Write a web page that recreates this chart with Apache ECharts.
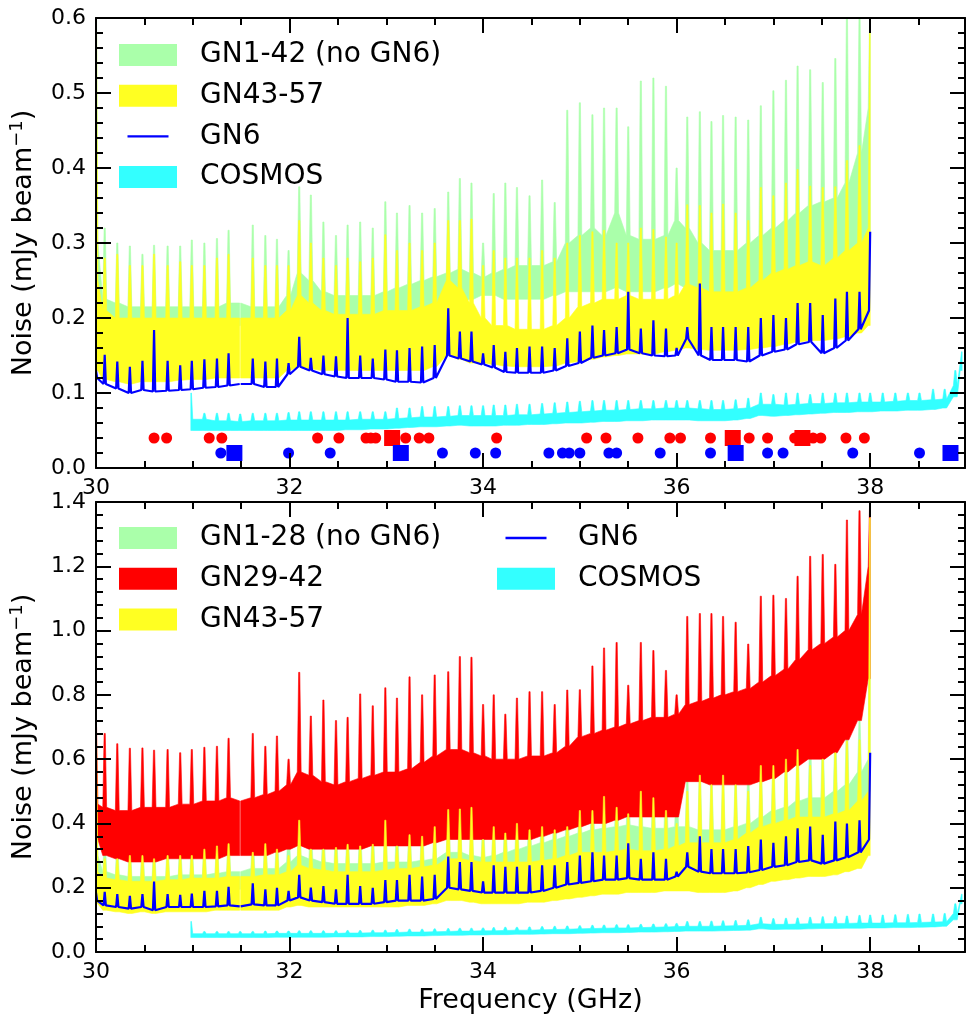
<!DOCTYPE html>
<html><head><meta charset="utf-8">
<script src="https://cdn.jsdelivr.net/npm/echarts@6/dist/echarts.min.js"></script>
<style>html,body{margin:0;padding:0;background:#fff}#c{width:966px;height:1019px}</style>
</head><body><div id="c"></div>
<script>
// ---------- frequencies of sub-band edges (GHz) ----------
const FREQ = [
 [30.00, 30.09, 30.22, 30.35, 30.48, 30.60, 30.74, 30.87, 30.99],
 [31.12, 31.25, 31.37, 31.49, 31.62, 31.75, 31.87, 31.99],
 [32.10, 32.22, 32.35, 32.48, 32.60, 32.73, 32.86, 32.99],
 [33.11, 33.24, 33.37, 33.50, 33.64, 33.76, 33.88, 34.00],
 [34.11, 34.23, 34.35, 34.48, 34.61, 34.74, 34.87, 35.00],
 [35.13, 35.25, 35.38, 35.50, 35.63, 35.76, 35.89, 36.00],
 [36.11, 36.24, 36.36, 36.48, 36.61, 36.74, 36.87, 37.00],
 [37.13, 37.25, 37.38, 37.51, 37.64, 37.76, 37.89, 38.00]].flat();
const COSMOS_FREQ = [
 [30.98, 31.12, 31.25, 31.37, 31.49, 31.62, 31.75, 31.87, 31.99],
 [32.10, 32.22, 32.35, 32.48, 32.60, 32.73, 32.86, 32.99],
 [33.11, 33.24, 33.37, 33.50, 33.64, 33.76, 33.88, 34.00],
 [34.11, 34.23, 34.35, 34.48, 34.61, 34.74, 34.87, 35.00],
 [35.13, 35.25, 35.38, 35.50, 35.63, 35.76, 35.89, 36.00],
 [36.11, 36.24, 36.36, 36.48, 36.61, 36.74, 36.87, 37.00],
 [37.13, 37.25, 37.38, 37.51, 37.64, 37.76, 37.89, 38.00],
 [38.13, 38.26, 38.39, 38.51, 38.65, 38.77, 38.88, 38.95]].flat();

// ---------- TOP PANEL ----------
const top_gn142_lo = [
 [0.200, 0.190, 0.190, 0.190, 0.190, 0.190, 0.190, 0.190, 0.190],
 [0.190, 0.190, 0.190, 0.190, 0.190, 0.190, 0.190, 0.195],
 [0.200, 0.200, 0.195, 0.190, 0.190, 0.190, 0.190, 0.190],
 [0.190, 0.190, 0.190, 0.200, 0.210, 0.220, 0.225, 0.230],
 [0.230, 0.225, 0.225, 0.225, 0.225, 0.230, 0.235, 0.235],
 [0.235, 0.235, 0.240, 0.235, 0.235, 0.235, 0.240, 0.245],
 [0.240, 0.230, 0.225, 0.225, 0.225, 0.230, 0.235, 0.240],
 [0.245, 0.250, 0.255, 0.260, 0.265, 0.270, 0.280, 0.300]].flat();
const top_gn142_hi = [
 [0.300, 0.225, 0.220, 0.215, 0.215, 0.215, 0.215, 0.215, 0.215],
 [0.215, 0.215, 0.220, 0.220, 0.215, 0.215, 0.215, 0.230],
 [0.260, 0.250, 0.235, 0.230, 0.230, 0.230, 0.230, 0.235],
 [0.240, 0.245, 0.250, 0.255, 0.260, 0.265, 0.260, 0.255],
 [0.260, 0.265, 0.270, 0.270, 0.270, 0.275, 0.300, 0.310],
 [0.320, 0.310, 0.340, 0.310, 0.305, 0.305, 0.310, 0.330],
 [0.320, 0.300, 0.290, 0.290, 0.290, 0.300, 0.310, 0.320],
 [0.330, 0.340, 0.350, 0.355, 0.360, 0.380, 0.420, 0.480]].flat();
const top_gn142_spike = [
 [0.600, 0.320, 0.300, 0.296, 0.285, 0.297, 0.296, 0.296, 0.304],
 [0.300, 0.306, 0.317, null, 0.324, 0.310, 0.305, 0.290],
 [0.375, 0.364, 0.328, 0.310, 0.324, 0.328, 0.320, 0.355],
 [0.340, 0.350, 0.340, 0.346, 0.368, 0.386, 0.380, 0.300],
 [0.366, 0.380, 0.374, 0.363, 0.384, 0.354, 0.477, 0.487],
 [0.471, 0.480, 0.480, 0.455, 0.516, 0.520, 0.509, 0.400],
 [0.468, 0.475, 0.462, 0.470, 0.468, 0.464, 0.483, 0.503],
 [0.517, 0.536, 0.531, 0.514, 0.546, 0.600, 0.600, 0.600]].flat();
const top_gn4357_lo = [
 [0.130, 0.118, 0.115, 0.112, 0.115, 0.115, 0.115, 0.117, 0.118],
 [0.118, 0.120, 0.120, 0.120, 0.120, 0.120, 0.120, 0.130],
 [0.135, 0.132, 0.130, 0.130, 0.130, 0.130, 0.130, 0.130],
 [0.130, 0.130, 0.130, 0.135, 0.150, 0.145, 0.140, 0.140],
 [0.138, 0.136, 0.135, 0.135, 0.135, 0.136, 0.140, 0.142],
 [0.145, 0.148, 0.150, 0.152, 0.152, 0.152, 0.155, 0.157],
 [0.160, 0.158, 0.157, 0.157, 0.157, 0.158, 0.160, 0.162],
 [0.165, 0.168, 0.170, 0.170, 0.172, 0.175, 0.180, 0.190]].flat();
const top_gn4357_hi = [
 [0.250, 0.210, 0.200, 0.200, 0.200, 0.200, 0.200, 0.200, 0.200],
 [0.200, 0.200, 0.200, 0.200, 0.200, 0.200, 0.200, 0.210],
 [0.230, 0.220, 0.210, 0.205, 0.205, 0.205, 0.205, 0.210],
 [0.210, 0.210, 0.215, 0.220, 0.250, 0.240, 0.220, 0.200],
 [0.190, 0.190, 0.185, 0.185, 0.185, 0.190, 0.200, 0.215],
 [0.220, 0.225, 0.225, 0.230, 0.225, 0.225, 0.225, 0.230],
 [0.245, 0.240, 0.235, 0.235, 0.235, 0.240, 0.250, 0.260],
 [0.265, 0.270, 0.275, 0.270, 0.280, 0.290, 0.300, 0.320]].flat();
const top_gn4357_spike = [
 [0.580, 0.280, 0.285, 0.270, 0.270, 0.285, 0.270, 0.275, 0.270],
 [0.270, 0.280, 0.285, null, 0.280, 0.270, 0.270, 0.270],
 [0.330, 0.300, 0.280, 0.270, 0.280, 0.275, 0.280, 0.311],
 [0.290, 0.300, 0.290, 0.300, 0.330, 0.330, 0.332, 0.270],
 [0.290, 0.280, 0.280, 0.280, 0.290, 0.280, 0.300, 0.310],
 [0.315, 0.317, 0.300, 0.300, 0.320, 0.318, 0.308, 0.300],
 [0.351, 0.350, 0.340, 0.352, 0.340, 0.330, 0.374, 0.363],
 [0.380, 0.398, 0.376, 0.374, 0.375, 0.410, 0.430, 0.580]].flat();
const top_gn6_base = [
 [0.120, 0.112, 0.106, 0.100, 0.104, 0.102, 0.103, 0.104, 0.105],
 [0.107, 0.108, 0.110, 0.112, 0.112, 0.108, 0.108, 0.125],
 [0.135, 0.130, 0.125, 0.122, 0.120, 0.120, 0.120, 0.118],
 [0.115, 0.115, 0.114, 0.120, 0.150, 0.146, 0.142, 0.138],
 [0.134, 0.128, 0.127, 0.127, 0.127, 0.130, 0.136, 0.140],
 [0.147, 0.150, 0.153, 0.158, 0.153, 0.150, 0.149, 0.150],
 [0.172, 0.150, 0.144, 0.144, 0.144, 0.142, 0.150, 0.155],
 [0.158, 0.165, 0.168, 0.153, 0.160, 0.170, 0.185, 0.210]].flat();
const top_gn6_spike = [
 [0.130, 0.151, 0.142, 0.135, 0.143, 0.184, 0.143, 0.137, 0.143],
 [0.145, 0.146, 0.153, null, 0.146, 0.142, 0.146, 0.140],
 [0.175, 0.147, 0.150, 0.149, 0.200, 0.150, 0.146, 0.158],
 [0.157, 0.160, 0.162, 0.164, 0.213, 0.182, 0.182, 0.153],
 [0.164, 0.155, 0.160, 0.162, 0.162, 0.160, 0.173, 0.182],
 [0.190, 0.184, 0.188, 0.235, 0.186, 0.197, 0.186, 0.160],
 [0.188, 0.246, 0.188, 0.188, 0.188, 0.188, 0.200, 0.204],
 [0.200, 0.220, 0.220, 0.204, 0.226, 0.235, 0.235, 0.315]].flat();
const top_cosmos_lo = [
 [0.050, 0.050, 0.050, 0.050, 0.050, 0.050, 0.050, 0.050, 0.050],
 [0.050, 0.050, 0.050, 0.050, 0.051, 0.051, 0.052, 0.052],
 [0.053, 0.054, 0.055, 0.055, 0.056, 0.057, 0.056, 0.056],
 [0.056, 0.057, 0.057, 0.058, 0.058, 0.059, 0.060, 0.060],
 [0.061, 0.062, 0.062, 0.063, 0.063, 0.064, 0.064, 0.064],
 [0.064, 0.063, 0.063, 0.063, 0.064, 0.066, 0.070, 0.069],
 [0.070, 0.071, 0.072, 0.073, 0.074, 0.074, 0.075, 0.075],
 [0.076, 0.076, 0.077, 0.077, 0.078, 0.080, 0.095, 0.130]].flat();
const top_cosmos_hi = [
 [0.065, 0.065, 0.063, 0.063, 0.062, 0.063, 0.063, 0.063, 0.064],
 [0.064, 0.064, 0.064, 0.064, 0.064, 0.065, 0.065, 0.065],
 [0.066, 0.067, 0.068, 0.068, 0.069, 0.070, 0.070, 0.070],
 [0.070, 0.070, 0.071, 0.071, 0.072, 0.073, 0.074, 0.075],
 [0.076, 0.077, 0.077, 0.078, 0.079, 0.079, 0.080, 0.080],
 [0.080, 0.079, 0.078, 0.078, 0.079, 0.080, 0.085, 0.085],
 [0.084, 0.085, 0.086, 0.086, 0.087, 0.087, 0.088, 0.088],
 [0.088, 0.089, 0.090, 0.090, 0.091, 0.092, 0.110, 0.140]].flat();
const top_cosmos_spike = [
 [0.100, 0.073, 0.073, 0.073, 0.072, 0.073, 0.073, 0.073, 0.074],
 [0.075, 0.075, 0.075, 0.075, 0.075, 0.075, 0.075, 0.075],
 [0.080, 0.080, 0.082, 0.082, 0.082, 0.083, 0.083, 0.083],
 [0.084, 0.084, 0.085, 0.085, 0.086, 0.087, 0.088, 0.089],
 [0.090, 0.090, 0.090, 0.090, 0.090, 0.090, 0.090, 0.090],
 [0.090, 0.090, 0.090, 0.090, 0.091, 0.093, 0.100, 0.098],
 [0.100, 0.100, 0.098, 0.100, 0.100, 0.100, 0.100, 0.100],
 [0.100, 0.100, 0.100, 0.100, 0.105, 0.105, 0.130, 0.155]].flat();
const red_circle_freq  = [30.60, 30.73, 31.17, 31.30, 32.29, 32.51, 32.79, 32.84, 32.89, 33.20, 33.34, 33.44, 34.14,
                          35.07, 35.27, 35.60, 35.93, 36.04, 36.35, 36.75, 36.94, 37.22, 37.41, 37.49, 37.75, 37.94];
const red_square_freq  = [33.06, 36.58, 37.30];
const blue_circle_freq = [31.29, 31.99, 32.42, 33.58, 33.92, 34.13, 34.68, 34.82, 34.89, 35.00, 35.30, 35.38, 35.83,
                          36.35, 36.94, 37.10, 37.82, 38.51];
const blue_square_freq = [31.43, 33.15, 36.61, 38.83];
const red_marker_level = 0.04, blue_marker_level = 0.02;

// ---------- BOTTOM PANEL ----------
const bot_gn128_lo = [
 [0.200, 0.190, 0.185, 0.185, 0.185, 0.185, 0.185, 0.190, 0.190],
 [0.190, 0.190, 0.195, 0.195, 0.195, 0.200, 0.200, 0.210],
 [0.230, 0.220, 0.215, 0.210, 0.210, 0.210, 0.210, 0.215],
 [0.220, 0.220, 0.225, 0.230, 0.250, 0.250, 0.245, 0.240],
 [0.240, 0.240, 0.240, 0.240, 0.245, 0.250, 0.260, 0.270],
 [0.270, 0.270, 0.275, 0.280, 0.275, 0.275, 0.280, 0.290],
 [0.300, 0.300, 0.300, 0.300, 0.310, 0.330, 0.350, 0.360],
 [0.370, 0.380, 0.380, 0.380, 0.390, 0.400, 0.430, 0.500]].flat();
const bot_gn128_hi = [
 [0.300, 0.250, 0.240, 0.235, 0.235, 0.235, 0.235, 0.240, 0.240],
 [0.240, 0.245, 0.250, 0.250, 0.260, 0.260, 0.260, 0.280],
 [0.300, 0.290, 0.280, 0.275, 0.275, 0.275, 0.275, 0.280],
 [0.280, 0.280, 0.285, 0.290, 0.310, 0.310, 0.300, 0.295],
 [0.300, 0.310, 0.320, 0.330, 0.340, 0.350, 0.360, 0.370],
 [0.380, 0.385, 0.390, 0.395, 0.390, 0.385, 0.385, 0.390],
 [0.390, 0.380, 0.380, 0.380, 0.390, 0.400, 0.420, 0.440],
 [0.450, 0.470, 0.480, 0.480, 0.500, 0.520, 0.560, 0.600]].flat();
const bot_gn128_spike = [
 [0.450, 0.350, 0.340, 0.340, 0.340, 0.340, 0.340, 0.345, 0.345],
 [0.350, 0.355, 0.360, null, 0.370, 0.370, 0.370, 0.380],
 [0.430, 0.400, 0.390, 0.385, 0.385, 0.385, 0.385, 0.420],
 [0.400, 0.400, 0.410, 0.420, 0.460, 0.460, 0.450, 0.400],
 [0.430, 0.440, 0.450, 0.460, 0.470, 0.480, 0.500, 0.510],
 [0.520, 0.530, 0.530, 0.540, 0.530, 0.530, 0.530, 0.510],
 [0.550, 0.570, 0.550, 0.560, 0.550, 0.560, 0.600, 0.620],
 [0.640, 0.660, 0.660, 0.660, 0.680, 0.720, 0.720, 1.400]].flat();
const bot_gn2942_lo = [
 [0.350, 0.300, 0.290, 0.280, 0.280, 0.280, 0.290, 0.290, 0.290],
 [0.290, 0.290, 0.300, 0.300, 0.300, 0.300, 0.310, 0.320],
 [0.330, 0.320, 0.320, 0.320, 0.320, 0.320, 0.330, 0.330],
 [0.330, 0.330, 0.330, 0.340, 0.350, 0.350, 0.350, 0.350],
 [0.350, 0.350, 0.350, 0.350, 0.360, 0.370, 0.380, 0.390],
 [0.400, 0.400, 0.410, 0.420, 0.420, 0.420, 0.420, 0.420],
 [0.530, 0.530, 0.520, 0.520, 0.520, 0.520, 0.530, 0.540],
 [0.560, 0.580, 0.600, 0.600, 0.620, 0.660, 0.720, 0.850]].flat();
const bot_gn2942_hi = [
 [0.460, 0.450, 0.440, 0.440, 0.450, 0.450, 0.450, 0.460, 0.460],
 [0.470, 0.470, 0.480, 0.470, 0.480, 0.490, 0.500, 0.520],
 [0.560, 0.550, 0.530, 0.520, 0.530, 0.540, 0.550, 0.560],
 [0.560, 0.570, 0.590, 0.610, 0.630, 0.630, 0.620, 0.610],
 [0.600, 0.600, 0.600, 0.610, 0.610, 0.620, 0.640, 0.670],
 [0.680, 0.690, 0.700, 0.710, 0.720, 0.730, 0.730, 0.740],
 [0.770, 0.780, 0.790, 0.800, 0.810, 0.820, 0.840, 0.860],
 [0.880, 0.910, 0.940, 0.960, 0.980, 1.000, 1.050, 1.200]].flat();
const bot_gn2942_spike = [
 [0.700, 0.680, 0.648, 0.634, 0.635, 0.628, 0.630, 0.620, 0.630],
 [0.637, 0.640, 0.665, null, 0.680, 0.640, 0.672, 0.600],
 [0.870, 0.734, 0.784, 0.720, 0.730, 0.803, 0.766, 0.822],
 [0.790, 0.856, 0.800, 0.862, 0.872, 0.919, 0.917, 0.770],
 [0.800, 0.740, 0.790, 0.810, 0.810, 0.770, 0.815, 0.816],
 [0.890, 0.946, 0.963, 0.830, 0.963, 0.938, 0.876, 0.800],
 [1.044, 1.053, 1.053, 1.044, 1.026, 0.958, 1.107, 1.110],
 [1.100, 1.169, 1.231, 1.237, 1.206, 1.344, 1.373, 1.400]].flat();
const bot_gn4357_lo = [
 [0.150, 0.130, 0.125, 0.120, 0.125, 0.120, 0.125, 0.125, 0.125],
 [0.125, 0.130, 0.130, 0.130, 0.130, 0.130, 0.130, 0.140],
 [0.145, 0.140, 0.140, 0.140, 0.140, 0.140, 0.140, 0.140],
 [0.140, 0.145, 0.145, 0.150, 0.160, 0.160, 0.155, 0.150],
 [0.150, 0.150, 0.150, 0.155, 0.155, 0.160, 0.165, 0.170],
 [0.175, 0.180, 0.180, 0.185, 0.185, 0.185, 0.190, 0.190],
 [0.190, 0.185, 0.185, 0.185, 0.190, 0.200, 0.210, 0.220],
 [0.225, 0.230, 0.235, 0.235, 0.240, 0.250, 0.260, 0.300]].flat();
const bot_gn4357_hi = [
 [0.250, 0.230, 0.225, 0.220, 0.220, 0.220, 0.225, 0.225, 0.230],
 [0.230, 0.230, 0.235, 0.235, 0.235, 0.240, 0.240, 0.250],
 [0.270, 0.260, 0.255, 0.250, 0.250, 0.250, 0.250, 0.255],
 [0.260, 0.260, 0.265, 0.270, 0.290, 0.290, 0.285, 0.280],
 [0.280, 0.280, 0.280, 0.280, 0.285, 0.290, 0.300, 0.310],
 [0.310, 0.310, 0.315, 0.320, 0.315, 0.315, 0.320, 0.330],
 [0.340, 0.340, 0.340, 0.340, 0.350, 0.370, 0.390, 0.400],
 [0.410, 0.420, 0.420, 0.420, 0.430, 0.440, 0.470, 0.500]].flat();
const bot_gn4357_spike = [
 [0.660, 0.290, 0.290, 0.300, 0.300, 0.290, 0.300, 0.300, 0.300],
 [0.320, 0.330, 0.337, null, 0.310, 0.337, 0.320, 0.300],
 [0.410, 0.320, 0.320, 0.325, 0.335, 0.330, 0.335, 0.410],
 [0.330, 0.365, 0.360, 0.390, 0.443, 0.445, 0.450, 0.350],
 [0.390, 0.370, 0.400, 0.380, 0.390, 0.380, 0.390, 0.440],
 [0.440, 0.484, 0.450, 0.430, 0.500, 0.480, 0.440, 0.400],
 [0.500, 0.550, 0.520, 0.550, 0.520, 0.500, 0.580, 0.580],
 [0.600, 0.630, 0.580, 0.600, 0.620, 0.656, 0.660, 1.350]].flat();
const bot_gn6_base = [
 [0.160, 0.145, 0.140, 0.135, 0.140, 0.130, 0.140, 0.140, 0.140],
 [0.140, 0.142, 0.145, 0.142, 0.148, 0.145, 0.145, 0.160],
 [0.170, 0.160, 0.155, 0.150, 0.150, 0.150, 0.150, 0.155],
 [0.160, 0.160, 0.160, 0.165, 0.200, 0.195, 0.190, 0.185],
 [0.185, 0.185, 0.185, 0.185, 0.190, 0.200, 0.210, 0.215],
 [0.220, 0.225, 0.225, 0.230, 0.225, 0.225, 0.225, 0.235],
 [0.265, 0.250, 0.245, 0.245, 0.245, 0.248, 0.255, 0.265],
 [0.270, 0.280, 0.285, 0.275, 0.285, 0.295, 0.310, 0.350]].flat();
const bot_gn6_spike = [
 [0.185, 0.187, 0.180, 0.175, 0.180, 0.219, 0.180, 0.178, 0.182],
 [0.190, 0.190, 0.203, null, 0.214, 0.195, 0.200, 0.190],
 [0.240, 0.200, 0.205, 0.195, 0.240, 0.205, 0.200, 0.224],
 [0.224, 0.240, 0.235, 0.240, 0.297, 0.280, 0.280, 0.220],
 [0.270, 0.265, 0.265, 0.270, 0.270, 0.270, 0.280, 0.300],
 [0.310, 0.300, 0.300, 0.338, 0.290, 0.310, 0.290, 0.250],
 [0.310, 0.360, 0.320, 0.320, 0.320, 0.330, 0.350, 0.340],
 [0.360, 0.385, 0.390, 0.365, 0.406, 0.400, 0.410, 0.620]].flat();
const bot_cosmos_lo = [
 [0.045, 0.045, 0.045, 0.045, 0.045, 0.045, 0.045, 0.046, 0.046],
 [0.046, 0.046, 0.046, 0.047, 0.047, 0.047, 0.048, 0.048],
 [0.049, 0.050, 0.050, 0.051, 0.052, 0.052, 0.053, 0.053],
 [0.054, 0.054, 0.055, 0.055, 0.056, 0.057, 0.057, 0.058],
 [0.059, 0.060, 0.060, 0.061, 0.062, 0.062, 0.063, 0.064],
 [0.065, 0.065, 0.065, 0.066, 0.067, 0.068, 0.072, 0.070],
 [0.071, 0.071, 0.072, 0.073, 0.073, 0.074, 0.074, 0.075],
 [0.075, 0.076, 0.076, 0.077, 0.078, 0.080, 0.100, 0.150]].flat();
const bot_cosmos_hi = [
 [0.057, 0.057, 0.057, 0.057, 0.057, 0.057, 0.057, 0.058, 0.058],
 [0.058, 0.058, 0.058, 0.058, 0.059, 0.059, 0.060, 0.060],
 [0.061, 0.062, 0.062, 0.063, 0.064, 0.065, 0.065, 0.066],
 [0.066, 0.067, 0.068, 0.068, 0.069, 0.070, 0.071, 0.072],
 [0.073, 0.074, 0.075, 0.075, 0.076, 0.077, 0.078, 0.079],
 [0.080, 0.080, 0.080, 0.081, 0.082, 0.083, 0.088, 0.086],
 [0.086, 0.087, 0.088, 0.088, 0.089, 0.089, 0.090, 0.090],
 [0.090, 0.091, 0.091, 0.092, 0.093, 0.094, 0.120, 0.160]].flat();
const bot_cosmos_spike = [
 [0.095, 0.064, 0.064, 0.064, 0.064, 0.064, 0.065, 0.065, 0.065],
 [0.066, 0.066, 0.066, 0.066, 0.067, 0.067, 0.068, 0.068],
 [0.070, 0.071, 0.071, 0.072, 0.073, 0.074, 0.074, 0.075],
 [0.076, 0.077, 0.077, 0.078, 0.079, 0.080, 0.081, 0.082],
 [0.083, 0.084, 0.085, 0.085, 0.086, 0.087, 0.088, 0.089],
 [0.095, 0.095, 0.096, 0.097, 0.098, 0.100, 0.108, 0.104],
 [0.105, 0.106, 0.108, 0.110, 0.110, 0.112, 0.114, 0.115],
 [0.115, 0.116, 0.117, 0.118, 0.118, 0.120, 0.150, 0.180]].flat();

// ---------- axis ticks ----------
const X_MIN = 30, X_MAX = 38.98;
const X_MAJOR = [30, 32, 34, 36, 38];
const X_MINOR = [30.5, 31, 31.5, 32.5, 33, 33.5, 34.5, 35, 35.5, 36.5, 37, 37.5, 38.5];

// ---------- styling ----------
const FONT = 'DejaVu Sans';
const C_GREEN = '#aaffaa', C_YELLOW = '#ffff22', C_RED = '#ff0000', C_BLUE = '#0000ff', C_CYAN = '#33ffff';
const SPK_W = 0.02, SPK_T = 0.006, GAP = 0.005;

function traceSegments(freq, base, peak, w, t) {
  const n = Math.min(freq.length, base.length, peak.length);
  const segs = []; let cur = [];
  for (let i = 0; i < n; i++) {
    const f = freq[i], b = base[i], p = peak[i];
    if (p === null) { cur.push([f - GAP, b]); segs.push(cur); cur = [[f + GAP, b]]; continue; }
    if (i === 0) { cur.push([f, p]); if (t) cur.push([f + t, p]); cur.push([f + w, b]); continue; }
    if (i === n - 1) { cur.push([f - w, b]); if (t) cur.push([f - t, p]); cur.push([f, p]); continue; }
    cur.push([f - w, b]);
    if (t) cur.push([f - t, p], [f + t, p]); else cur.push([f, p]);
    cur.push([f + w, b]);
  }
  segs.push(cur);
  return segs;
}

function bandSeries(name, color, freq, lo, hi, peak, xi, yi) {
  const hs = traceSegments(freq, hi, peak, SPK_W, SPK_T);
  const ls = traceSegments(freq, lo, peak.map((p, i) => p === null ? null : lo[i]), SPK_W, SPK_T);
  const polys = hs.map((h, k) => h.concat(ls[k].slice().reverse()));
  return {
    type: 'custom', name, xAxisIndex: xi, yAxisIndex: yi,
    itemStyle: { color }, silent: true, animation: false, clip: true,
    data: polys.map(p => p[0]),
    renderItem: (params, api) => ({
      type: 'polygon',
      shape: { points: polys[params.dataIndex].map(pt => api.coord(pt)) },
      style: { fill: color, stroke: color, lineWidth: 0.6 }
    })
  };
}

function lineSeries(name, color, freq, base, peak, xi, yi) {
  const segs = traceSegments(freq, base, peak, 0.012, 0);
  const data = [];
  segs.forEach((s, k) => { if (k > 0) data.push([s[0][0] - GAP, null]); data.push(...s); });
  return {
    type: 'line', name, xAxisIndex: xi, yAxisIndex: yi, data,
    showSymbol: false, symbol: 'none', connectNulls: false, silent: true, animation: false,
    itemStyle: { color }, lineStyle: { color, width: 2.2 }
  };
}

function markerSeries(name, color, symbol, size, freqs, level) {
  return {
    type: 'scatter', name, xAxisIndex: 0, yAxisIndex: 0, symbol, symbolSize: size,
    data: freqs.map(f => [f, level]), itemStyle: { color, opacity: 1 }, silent: true, animation: false, z: 3
  };
}

const tickLine = { color: '#000', width: 2 };
function xAxesFor(gi) {
  const c = { type: 'value', gridIndex: gi, min: X_MIN, max: X_MAX, splitLine: { show: false }, z: 10 };
  return [
    Object.assign({}, c, { position: 'bottom', axisLine: { show: true, lineStyle: tickLine },
      axisTick: { show: true, inside: true, length: 15, lineStyle: tickLine, customValues: X_MAJOR },
      axisLabel: { show: true, customValues: X_MAJOR, fontSize: 22, fontFamily: FONT, color: '#000', margin: 9 },
      name: gi === 1 ? 'Frequency (GHz)' : '', nameLocation: 'middle', nameGap: 35,
      nameTextStyle: { fontSize: 27, fontFamily: FONT, color: '#000' } }),
    Object.assign({}, c, { position: 'bottom', axisLine: { show: false },
      axisTick: { show: true, inside: true, length: 7, lineStyle: tickLine, customValues: X_MINOR },
      axisLabel: { show: false } }),
    Object.assign({}, c, { position: 'top', axisLine: { show: true, lineStyle: tickLine },
      axisTick: { show: true, inside: true, length: 15, lineStyle: tickLine, customValues: X_MAJOR },
      axisLabel: { show: false } }),
    Object.assign({}, c, { position: 'top', axisLine: { show: false },
      axisTick: { show: true, inside: true, length: 7, lineStyle: tickLine, customValues: X_MINOR },
      axisLabel: { show: false } })
  ];
}
const Y_TITLE = '{a|Noise (mJy beam}{s|\u22121}{a|)}';
function yAxesFor(gi, max, interval) {
  const c = { type: 'value', gridIndex: gi, min: 0, max, interval, splitLine: { show: false }, z: 10,
    axisLine: { show: true, lineStyle: tickLine },
    axisTick: { show: true, inside: true, length: 15, lineStyle: tickLine },
    minorTick: { show: true, splitNumber: 5, length: 7, lineStyle: tickLine },
    minorSplitLine: { show: false } };
  return [
    Object.assign({}, c, { position: 'left',
      axisLabel: { show: true, formatter: v => v.toFixed(1), fontSize: 22, fontFamily: FONT, color: '#000', margin: 10 },
      name: Y_TITLE, nameLocation: 'middle', nameGap: 56, nameRotate: 90,
      nameTextStyle: { color: '#000', fontFamily: FONT,
        rich: { a: { fontSize: 27, fontFamily: FONT, color: '#000', lineHeight: 32 },
                s: { fontSize: 18, fontFamily: FONT, color: '#000', lineHeight: 18, verticalAlign: 'top' } } } }),
    Object.assign({}, c, { position: 'right', axisLabel: { show: false } })
  ];
}

const LINE_ICON = 'path://M0,0 M58,22 M8.5,9.8 L49.5,9.8 L49.5,12.2 L8.5,12.2 Z';
const legendBase = { orient: 'vertical', padding: 0, itemWidth: 58, itemHeight: 22, itemGap: 12.7,
  selectedMode: false, itemStyle: { borderWidth: 0 },
  textStyle: { fontSize: 28, fontFamily: FONT, color: '#000', padding: [0, 0, 0, 18] } };

const option = {
  animation: false,
  backgroundColor: '#fff',
  grid: [
    { left: 95, top: 18, width: 870, height: 450 },
    { left: 95, top: 502, width: 870, height: 450 }
  ],
  xAxis: [...xAxesFor(0), ...xAxesFor(1)],
  yAxis: [...yAxesFor(0, 0.6, 0.1), ...yAxesFor(1, 1.4, 0.2)],
  legend: [
    Object.assign({}, legendBase, { left: 119, top: 41, data: [
      { name: 'GN1-42 (no GN6)', icon: 'rect' }, { name: 'GN43-57', icon: 'rect' },
      { name: 'GN6', icon: LINE_ICON }, { name: 'COSMOS', icon: 'rect' }] }),
    Object.assign({}, legendBase, { left: 119, top: 524, data: [
      { name: 'GN1-28 (no GN6)', icon: 'rect' }, { name: 'GN29-42', icon: 'rect' }, { name: 'GN43-57', icon: 'rect' }] }),
    Object.assign({}, legendBase, { left: 497, top: 524, data: [
      { name: 'GN6', icon: LINE_ICON }, { name: 'COSMOS', icon: 'rect' }] })
  ],
  series: [
    bandSeries('GN1-42 (no GN6)', C_GREEN, FREQ, top_gn142_lo, top_gn142_hi, top_gn142_spike, 0, 0),
    bandSeries('GN43-57', C_YELLOW, FREQ, top_gn4357_lo, top_gn4357_hi, top_gn4357_spike, 0, 0),
    lineSeries('GN6', C_BLUE, FREQ, top_gn6_base, top_gn6_spike, 0, 0),
    bandSeries('COSMOS', C_CYAN, COSMOS_FREQ, top_cosmos_lo, top_cosmos_hi, top_cosmos_spike, 0, 0),
    markerSeries('red lines', C_RED, 'circle', 11, red_circle_freq, red_marker_level),
    markerSeries('blue lines', C_BLUE, 'circle', 11, blue_circle_freq, blue_marker_level),
    markerSeries('red lines (sq)', C_RED, 'rect', 16, red_square_freq, red_marker_level),
    markerSeries('blue lines (sq)', C_BLUE, 'rect', 16, blue_square_freq, blue_marker_level),
    bandSeries('GN1-28 (no GN6)', C_GREEN, FREQ, bot_gn128_lo, bot_gn128_hi, bot_gn128_spike, 4, 2),
    bandSeries('GN29-42', C_RED, FREQ, bot_gn2942_lo, bot_gn2942_hi, bot_gn2942_spike, 4, 2),
    bandSeries('GN43-57', C_YELLOW, FREQ, bot_gn4357_lo, bot_gn4357_hi, bot_gn4357_spike, 4, 2),
    lineSeries('GN6', C_BLUE, FREQ, bot_gn6_base, bot_gn6_spike, 4, 2),
    bandSeries('COSMOS', C_CYAN, COSMOS_FREQ, bot_cosmos_lo, bot_cosmos_hi, bot_cosmos_spike, 4, 2)
  ]
};
const chart = echarts.init(document.getElementById('c'));
chart.setOption(option);
</script>
</body></html>
